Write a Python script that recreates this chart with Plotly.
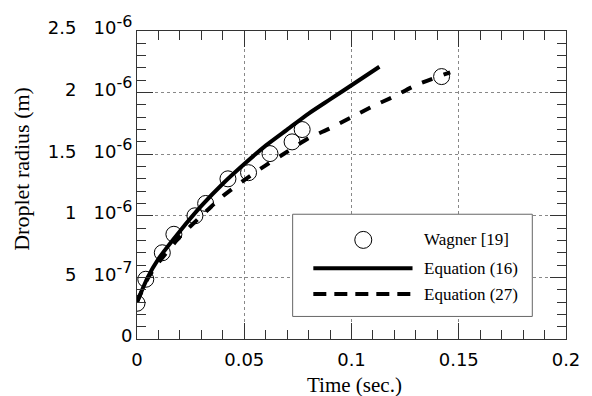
import plotly.graph_objects as go

# Data (radius in metres, time in seconds)
t_wagner = [0.0, 0.0041, 0.0118, 0.0172, 0.027, 0.032, 0.0424, 0.052, 0.062, 0.0723, 0.077, 0.142]
r_wagner = [0.29e-6, 0.485e-6, 0.70e-6, 0.85e-6, 1.00e-6, 1.10e-6, 1.30e-6, 1.35e-6, 1.505e-6, 1.60e-6, 1.70e-6, 2.13e-6]

t_eq16 = [0.0, 0.005, 0.01, 0.02, 0.03, 0.04, 0.05, 0.06, 0.07, 0.08, 0.09, 0.10, 0.113]
r_eq16 = [0.30e-6, 0.50e-6, 0.65e-6, 0.875e-6, 1.08e-6, 1.26e-6, 1.42e-6, 1.57e-6, 1.70e-6, 1.83e-6, 1.945e-6, 2.06e-6, 2.21e-6]

t_eq27 = [0.0, 0.005, 0.01, 0.02, 0.03, 0.04, 0.05, 0.06, 0.07, 0.08, 0.09, 0.10, 0.11, 0.12, 0.13, 0.146]
r_eq27 = [0.30e-6, 0.49e-6, 0.62e-6, 0.83e-6, 1.00e-6, 1.16e-6, 1.29e-6, 1.41e-6, 1.52e-6, 1.63e-6, 1.71e-6, 1.80e-6, 1.89e-6, 1.97e-6, 2.06e-6, 2.165e-6]

x_tickvals = [0, 0.05, 0.1, 0.15, 0.2]
x_ticktext = ["0", "0.05", "0.1", "0.15", "0.2"]
y_tickvals = [0, 0.5e-6, 1.0e-6, 1.5e-6, 2.0e-6, 2.5e-6]
y_mant = ["0", "5", "1", "1.5", "2", "2.5"]
y_exp = ["", "-7", "-6", "-6", "-6", "-6"]
legend_names = ["Wagner [19]", "Equation (16)", "Equation (27)"]
x_title = "Time (sec.)"
y_title = "Droplet radius (m)"

NB = "\u00a0"
y_ticktext = [m + NB + NB + NB + "10<sup><span style='font-size:16px'>" + e + "</span></sup>" if e else m
              for m, e in zip(y_mant, y_exp)]

fig = go.Figure()
fig.add_trace(go.Scatter(x=t_wagner, y=r_wagner, mode="markers", name=legend_names[0],
                         marker=dict(symbol="circle-open", size=16, color="black", line=dict(width=1))))
fig.add_trace(go.Scatter(x=t_eq16, y=r_eq16, mode="lines", name=legend_names[1],
                         line=dict(color="black", width=4, shape="spline", smoothing=0.6)))
fig.add_trace(go.Scatter(x=t_eq27, y=r_eq27, mode="lines", name=legend_names[2],
                         line=dict(color="black", width=4, dash="11px,12px", shape="spline", smoothing=0.6)))

tickfont = dict(family="DejaVu Sans", size=18, color="black")
serif = "Liberation Serif"

common = dict(ticks="inside", ticklen=16, tickcolor="#333", tickwidth=1,
              showline=True, linecolor="#333", linewidth=1, mirror="ticks",
              showgrid=True, gridcolor="#888", griddash="dot", gridwidth=1,
              zeroline=False, tickfont=tickfont)

fig.update_xaxes(range=[0, 0.2], tickvals=x_tickvals, ticktext=x_ticktext,
                 minor=dict(ticks="inside", ticklen=9, dtick=0.01, tickcolor="#333", showgrid=False),
                 ticklabelstandoff=4, **common)
fig.update_yaxes(range=[0, 2.5e-6], tickvals=y_tickvals, ticktext=y_ticktext,
                 minor=dict(ticks="inside", ticklen=9, dtick=1e-7, tickcolor="#333", showgrid=False),
                 ticklabelshift=-3, ticklabelstandoff=0, **common)

# Custom legend box and axis titles in paper coordinates
L, R, T, B = 137, 572.5, 30.7, 339.3
def px(x):
    return (x - L) / (R - L)
def py(y):
    return (B - y) / (B - T)

shapes = [
    dict(type="rect", xref="paper", yref="paper", x0=px(295), x1=px(538.3), y0=py(316.7), y1=py(214.3),
         fillcolor="white", line=dict(color="#666", width=1), layer="above"),
    dict(type="circle", xref="paper", yref="paper", xsizemode="pixel", ysizemode="pixel",
         xanchor=px(366.7), yanchor=py(240), x0=-8.5, x1=8.5, y0=-8.5, y1=8.5,
         line=dict(color="black", width=1), layer="above"),
    dict(type="line", xref="paper", yref="paper", x0=px(316), x1=px(416.7), y0=py(268.3), y1=py(268.3),
         line=dict(color="black", width=4), layer="above"),
    dict(type="line", xref="paper", yref="paper", x0=px(316), x1=px(416.7), y0=py(294.3), y1=py(294.3),
         line=dict(color="black", width=4, dash="13px,8px"), layer="above"),
]
annotations = []
for name, yy in zip(legend_names, [240, 268.3, 294.3]):
    annotations.append(dict(xref="paper", yref="paper", x=px(426.7), y=py(yy), text=name,
                            showarrow=False, xanchor="left", yanchor="middle",
                            font=dict(family=serif, size=17, color="black")))
annotations.append(dict(xref="paper", yref="paper", x=px(358), y=py(385), text=x_title,
                        showarrow=False, xanchor="center", yanchor="middle",
                        font=dict(family=serif, size=21, color="black")))
annotations.append(dict(xref="paper", yref="paper", x=px(19), y=py(169), text=y_title, textangle=-90,
                        showarrow=False, xanchor="center", yanchor="middle",
                        font=dict(family=serif, size=22, color="black")))

fig.update_layout(width=592, height=396, margin=dict(l=137, r=19.5, t=30.7, b=56.7),
                  paper_bgcolor="white", plot_bgcolor="white", showlegend=False,
                  shapes=shapes, annotations=annotations)

fig.write_html("out.html")
